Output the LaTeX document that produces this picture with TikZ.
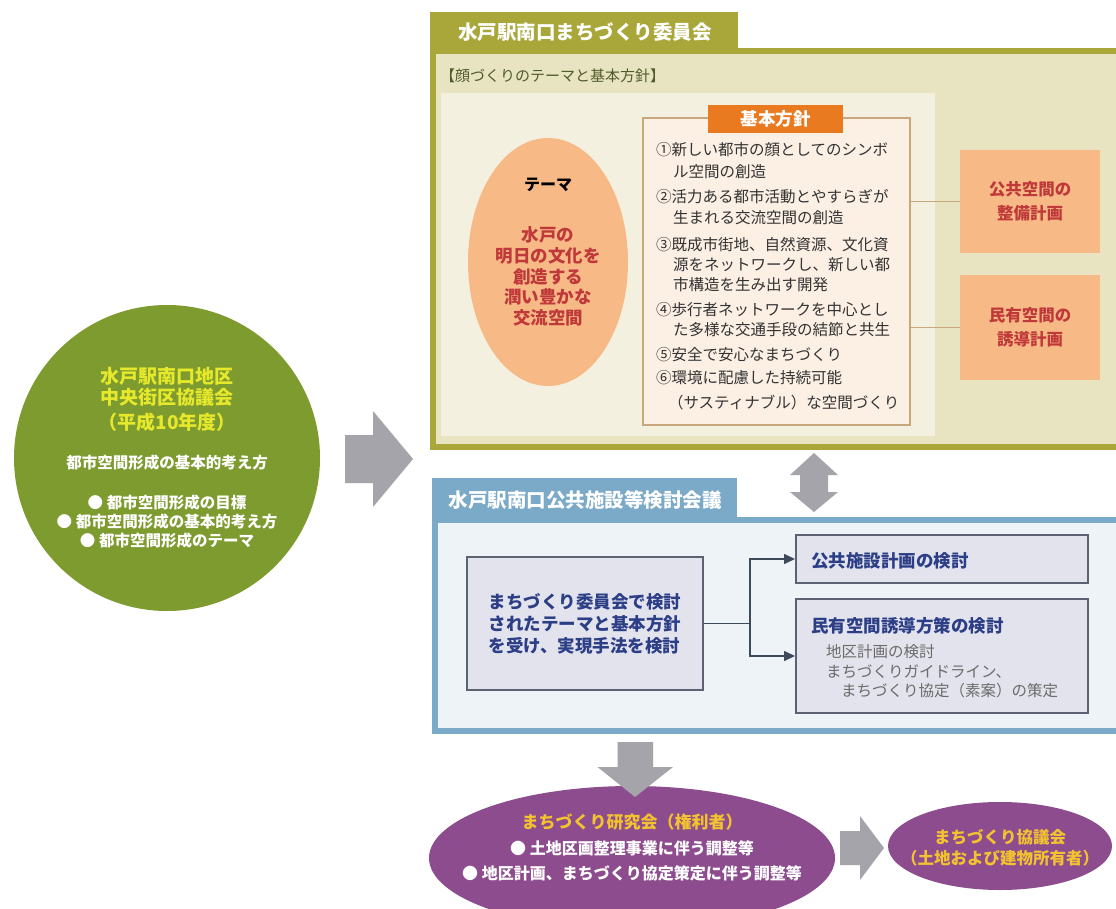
\documentclass[tikz,border=0pt]{standalone}
\usepackage{fontspec}
\setmainfont{Noto Sans CJK JP}
\usetikzlibrary{shapes.geometric,arrows.meta}
\newcommand{\myfs}[2]{\fontsize{#1}{#2}\selectfont}
\definecolor{cOlive}{HTML}{7E9B2F}
\definecolor{cYel}{HTML}{E6E82C}
\definecolor{cGray}{HTML}{A4A4AA}
\definecolor{cOliveBox}{HTML}{A9A63A}
\definecolor{cKhaki}{HTML}{E8E4C2}
\definecolor{cCream}{HTML}{F4F0DF}
\definecolor{cPeach}{HTML}{F7BA87}
\definecolor{cRed}{HTML}{C0393A}
\definecolor{cPolFill}{HTML}{FCEFE4}
\definecolor{cTan}{HTML}{C9A77C}
\definecolor{cOrange}{HTML}{EA7A1F}
\definecolor{cBlue}{HTML}{7BA9C8}
\definecolor{cBlueFill}{HTML}{EEF3F7}
\definecolor{cLav}{HTML}{E3E3EE}
\definecolor{cBoxLine}{HTML}{5D6272}
\definecolor{cNavy}{HTML}{2C3E86}
\definecolor{cTxtGray}{HTML}{6B6B6B}
\definecolor{cPurple}{HTML}{8D4C8E}
\definecolor{cGold}{HTML}{F2C230}
\definecolor{cDark}{HTML}{333333}
\definecolor{cLabel}{HTML}{505A2A}
\definecolor{cLine}{HTML}{3E4A5C}
\begin{document}
\begin{tikzpicture}[x=1pt,y=-1pt,
  txt/.style={inner sep=0pt, outer sep=0pt},
  blockarrow/.style={fill=cGray},
  pol/.style={txt, anchor=west, text=cDark, font=\myfs{15.5}{19}},
  lavbox/.style={draw=cBoxLine, line width=2pt, fill=cLav, inner sep=0pt},
  peachbox/.style={fill=cPeach, inner sep=0pt, text=cRed, font=\myfs{16.5}{24}\bfseries, align=center},
  conn/.style={cLine, line width=1.5pt},
  tanline/.style={cTan, line width=1.2pt}]
\useasboundingbox (0,0) rectangle (1116,909);
\fill[white] (0,0) rectangle (1116,909);

% left circle
\node[circle, fill=cOlive, minimum size=306pt, inner sep=0pt] (circ) at (167,458) {};
\node[txt, text=cYel, font=\myfs{19}{21}\bfseries, align=center] (circT) at (167,399) {水戸駅南口地区\\中央街区協議会\\[4pt]（平成10年度）};
\node[txt, text=white, font=\myfs{15.5}{19}\bfseries] (circS) at (167,463) {都市空間形成の基本的考え方};
\node[txt, text=white, font=\myfs{15.5}{19}\bfseries, align=center] (circB) at (167,522) {● 都市空間形成の目標\\● 都市空間形成の基本的考え方\\● 都市空間形成のテーマ};

% big right arrow
\fill[blockarrow] (345,435) -- (373,435) -- (373,411) -- (413,459) -- (373,507) -- (373,483) -- (345,483) -- cycle;

% olive committee box
\draw[cOliveBox, line width=6pt, fill=cKhaki] (433,51) rectangle (1130,447);
\fill[cOliveBox] (430,12) rectangle (738,52);
\node[txt, text=white, font=\myfs{19.5}{21}\bfseries] (t1) at (585,32) {水戸駅南口まちづくり委員会};
\node[txt, anchor=west, text=cLabel, font=\myfs{15}{18}] (lab) at (440,76) {【顔づくりのテーマと基本方針】};
\fill[cCream] (441,93) rectangle (935,436);

% theme ellipse
\node[ellipse, fill=cPeach, minimum width=160pt, minimum height=248pt, inner sep=0pt] (theme) at (548,262) {};
\node[txt, font=\myfs{16}{20}\bfseries, text=black] (themeL) at (548,185) {テーマ};
\node[txt, font=\myfs{17.5}{20.7}\bfseries, text=cRed, align=center] (themeT) at (548,276.5) {水戸の\\明日の文化を\\創造する\\潤い豊かな\\交流空間};

% basic policy box
\node[draw=cTan, line width=2pt, fill=cPolFill, minimum width=267pt, minimum height=307pt, inner sep=0pt] (pol) at (776.5,271.5) {};
\node[fill=cOrange, minimum width=135pt, minimum height=28pt, inner sep=0pt, text=white, font=\myfs{17.5}{20}\bfseries] (polT) at (775.5,119) {基本方針};
\node[pol] (p1) at (656,150) {①新しい都市の顔としてのシンボ};
\node[pol] (p2) at (673,172) {ル空間の創造};
\node[pol] (p3) at (656,197) {②活力ある都市活動とやすらぎが};
\node[pol] (p4) at (673,218) {生まれる交流空間の創造};
\node[pol] (p5) at (656,245) {③既成市街地、自然資源、文化資};
\node[pol] (p6) at (673,265) {源をネットワークし、新しい都};
\node[pol] (p7) at (673,285) {市構造を生み出す開発};
\node[pol] (p8) at (656,310) {④歩行者ネットワークを中心とし};
\node[pol] (p9) at (673,330) {た多様な交通手段の結節と共生};
\node[pol] (p10) at (656,355) {⑤安全で安心なまちづくり};
\node[pol] (p11) at (656,378) {⑥環境に配慮した持続可能};
\node[pol] (p12) at (668,403) {（サスティナブル）な空間づくり};

% right plan boxes
\node[peachbox, minimum width=140pt, minimum height=103pt] (pub) at (1030,201.5) {公共空間の\\整備計画};
\node[peachbox, minimum width=140pt, minimum height=105pt] (pri) at (1030,327.5) {民有空間の\\誘導計画};
\draw[tanline] (pub.west) -- (pub.west -| pol.east);
\draw[tanline] (pri.west) -- (pri.west -| pol.east);

% double arrow
\fill[blockarrow] (814,453) -- (838,475) -- (828,475) -- (828,492) -- (838,492) -- (814,512) -- (790,492) -- (800,492) -- (800,475) -- (790,475) -- cycle;

% blue council box
\draw[cBlue, line width=6pt, fill=cBlueFill] (435,520) rectangle (1130,731);
\fill[cBlue] (432,478) rectangle (737,521);
\node[txt, text=white, font=\myfs{19.5}{21}\bfseries] (t2) at (585,500) {水戸駅南口公共施設等検討会議};

\node[lavbox, minimum width=236pt, minimum height=133pt, text=cNavy, font=\myfs{17.5}{22}\bfseries, align=left] (mk) at (585,623.5) {まちづくり委員会で検討\\されたテーマと基本方針\\を受け、実現手法を検討};
\node[lavbox, minimum width=292pt, minimum height=48pt] (b1) at (942,559) {};
\node[txt, anchor=west, text=cNavy, font=\myfs{17.5}{20}\bfseries] (b1t) at (811,561) {公共施設計画の検討};
\node[lavbox, minimum width=292pt, minimum height=114pt] (b2) at (942,656) {};
\node[txt, anchor=west, text=cNavy, font=\myfs{17.5}{20}\bfseries] (b2t) at (811,626) {民有空間誘導方策の検討};
\node[txt, anchor=west, text=cTxtGray, font=\myfs{15.5}{19}] (b2a) at (826,652) {地区計画の検討};
\node[txt, anchor=west, text=cTxtGray, font=\myfs{15.5}{19}] (b2b) at (826,672) {まちづくりガイドライン、};
\node[txt, anchor=west, text=cTxtGray, font=\myfs{15.5}{19}] (b2c) at (841,691) {まちづくり協定（素案）の策定};

\coordinate (br) at (750,623.5);
\draw[conn] (mk.east) -- (br);
\draw[conn, -{Triangle[length=11pt,width=10pt]}] (br) |- (b1.west);
\draw[conn, -{Triangle[length=11pt,width=10pt]}] (br) |- (b2.west);

% bottom ellipses
\node[ellipse, fill=cPurple, minimum width=406pt, minimum height=144pt, inner sep=0pt] (res) at (632,858) {};
\node[txt, text=cGold, font=\myfs{17}{20}\bfseries] (resT) at (632,822) {まちづくり研究会（権利者）};
\node[txt, text=white, font=\myfs{16}{25}\bfseries, align=center] (resB) at (632,860.5) {● 土地区画整理事業に伴う調整等\\● 地区計画、まちづくり協定策定に伴う調整等};

\fill[blockarrow] (617.5,742) -- (653,742) -- (653,767) -- (673,767) -- (635,797) -- (597.5,767) -- (617.5,767) -- cycle;

\fill[blockarrow] (840,831) -- (860,831) -- (860,816) -- (884,848) -- (860,880) -- (860,865) -- (840,865) -- cycle;

\node[ellipse, fill=cPurple, minimum width=224pt, minimum height=88pt, inner sep=0pt] (kyo) at (1000,846) {};
\node[txt, text=cGold, font=\myfs{16.5}{21}\bfseries, align=center] (kyoT) at (1000,847.5) {まちづくり協議会\\（土地および建物所有者）};
\end{tikzpicture}
\end{document}
